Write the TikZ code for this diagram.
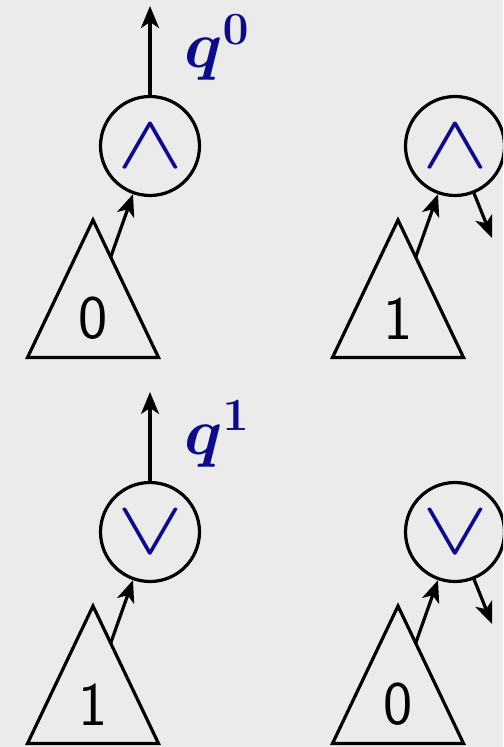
\RequirePackage{fix-cm}
\documentclass[tikz,border=0pt]{standalone}
\usepackage{bm}
\usetikzlibrary{arrows.meta,calc}
\definecolor{bg}{RGB}{235,235,235}
\definecolor{opblue}{RGB}{12,12,135}
\newcommand{\wideop}[1]{\scalebox{1.3}[1]{$#1$}}
\begin{document}
\begin{tikzpicture}[x=0.5pt,y=-0.5pt,
  gate/.style={circle,draw,line width=1.6pt,minimum size=49.5pt,inner sep=0pt,text=opblue,font=\fontsize{38}{46}\selectfont},
  tri/.style={draw,line width=1.6pt,miter limit=10},
  digit/.style={font=\fontsize{31}{36}\selectfont\sffamily,inner sep=0pt},
  conn/.style={line width=1.6pt,-{Stealth[length=11pt,width=9pt,inset=3pt]}},
  qlab/.style={text=opblue,font=\fontsize{33}{39}\selectfont,inner sep=0pt,anchor=base west}]
\fill[bg] (0,0) rectangle (503,747);
\useasboundingbox (0,0) rectangle (503,747);
\clip (0,0) rectangle (503,747);
% top left
\node[gate] (c1) at (150,146) {\wideop{\wedge}};
\coordinate (a1) at (93,220); \coordinate (l1) at (27.5,357.5); \coordinate (r1) at (158.5,357.5);
\draw[tri] (a1) -- (l1) -- (r1) -- cycle;
\node[digit] (t1) at (93,318.5) {0};
\coordinate (s1) at ($(a1)!0.27!(r1)$);
\draw[conn] (s1) -- (c1);
\coordinate (o1) at (150,6);
\draw[conn] (c1.north) -- (o1);
\node[qlab] (q1) at (184,68) {$\bm{q}^{\bm{0}}$};
% top right
\node[gate] (c2) at (455,146) {\wideop{\wedge}};
\coordinate (a2) at (398,220); \coordinate (l2) at (332.5,357.5); \coordinate (r2) at (463.5,357.5);
\draw[tri] (a2) -- (l2) -- (r2) -- cycle;
\node[digit] (t2) at (398,318.5) {1};
\coordinate (s2) at ($(a2)!0.27!(r2)$);
\draw[conn] (s2) -- (c2);
\coordinate (e2) at (492,238);
\draw[conn] (c2) -- (e2);
% bottom left
\node[gate] (c3) at (150,532) {\wideop{\vee}};
\coordinate (a3) at (93,606); \coordinate (l3) at (27.5,743.5); \coordinate (r3) at (158.5,743.5);
\draw[tri] (a3) -- (l3) -- (r3) -- cycle;
\node[digit] (t3) at (93,704.5) {1};
\coordinate (s3) at ($(a3)!0.27!(r3)$);
\draw[conn] (s3) -- (c3);
\coordinate (o3) at (150,392);
\draw[conn] (c3.north) -- (o3);
\node[qlab] (q3) at (184,454) {$\bm{q}^{\bm{1}}$};
% bottom right
\node[gate] (c4) at (455,532) {\wideop{\vee}};
\coordinate (a4) at (398,606); \coordinate (l4) at (332.5,743.5); \coordinate (r4) at (463.5,743.5);
\draw[tri] (a4) -- (l4) -- (r4) -- cycle;
\node[digit] (t4) at (398,704.5) {0};
\coordinate (s4) at ($(a4)!0.27!(r4)$);
\draw[conn] (s4) -- (c4);
\coordinate (e4) at (492,624);
\draw[conn] (c4) -- (e4);
\end{tikzpicture}
\end{document}
